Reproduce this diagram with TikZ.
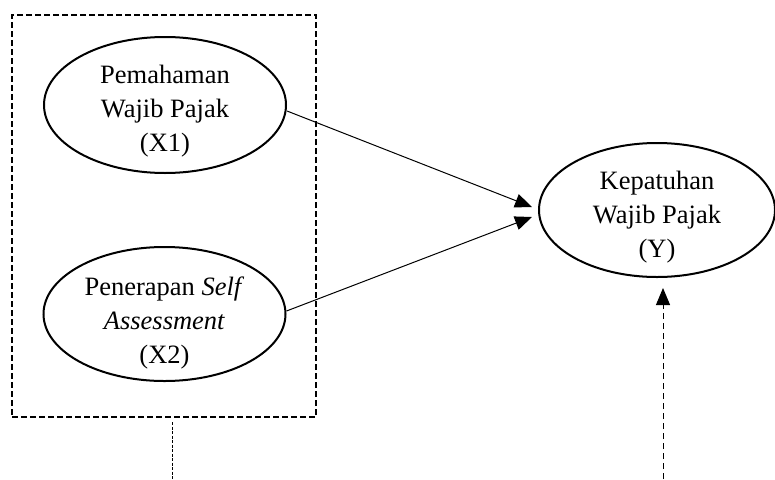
\documentclass[tikz,border=0pt]{standalone}
\usepackage{fontspec}
\setmainfont{Liberation Serif}
\usetikzlibrary{shapes.geometric,arrows.meta,calc}
\begin{document}
\begin{tikzpicture}[x=1pt,y=-1pt,
  var/.style={draw,ellipse,line width=2pt,inner sep=0pt},
  lbl/.style={align=center,inner sep=0pt,font=\fontsize{26.5}{34}\selectfont},
  tip/.style={-{Triangle[length=17pt,width=14pt]}},
  conn/.style={line width=1pt,tip},
  grp/.style={draw,line width=2pt,dash pattern=on 6pt off 3pt,inner sep=0pt}]
\useasboundingbox (0,0) rectangle (775,479);
\node[grp,minimum width=304pt,minimum height=402pt] (box) at (164,216) {};
\node[var,minimum width=242pt,minimum height=136pt] (x1) at (165,105) {};
\node[var,minimum width=242pt,minimum height=134pt] (x2) at (164.5,314) {};
\node[var,minimum width=236pt,minimum height=134pt] (y) at (657,210) {};
\node[lbl] (t1) at ([yshift=-6pt]x1.center) {Pemahaman\\Wajib Pajak\\(X1)};
\node[lbl] (t2) at ([yshift=-9pt]x2.center) {Penerapan \textit{Self}\\\textit{Assessment}\\(X2)};
\node[lbl] (ty) at ([yshift=-7pt]y.center) {Kepatuhan\\Wajib Pajak\\(Y)};
\draw[conn] ([yshift=-6pt]x1.east) -- ([xshift=-6pt,yshift=3pt]y.west);
\draw[conn] ([yshift=3pt]x2.east) -- ([xshift=-6pt,yshift=-7pt]y.west);
\coordinate (b1) at (172,479);
\coordinate (b2) at (663,479);
\draw[line width=0.8pt,dash pattern=on 3pt off 1.5pt] ([xshift=8pt,yshift=-4pt]box.south) -- (b1);
\draw[line width=1pt,dash pattern=on 6pt off 4pt,tip] (b2) -- ([xshift=6pt,yshift=-10pt]y.south);
\end{tikzpicture}
\end{document}
